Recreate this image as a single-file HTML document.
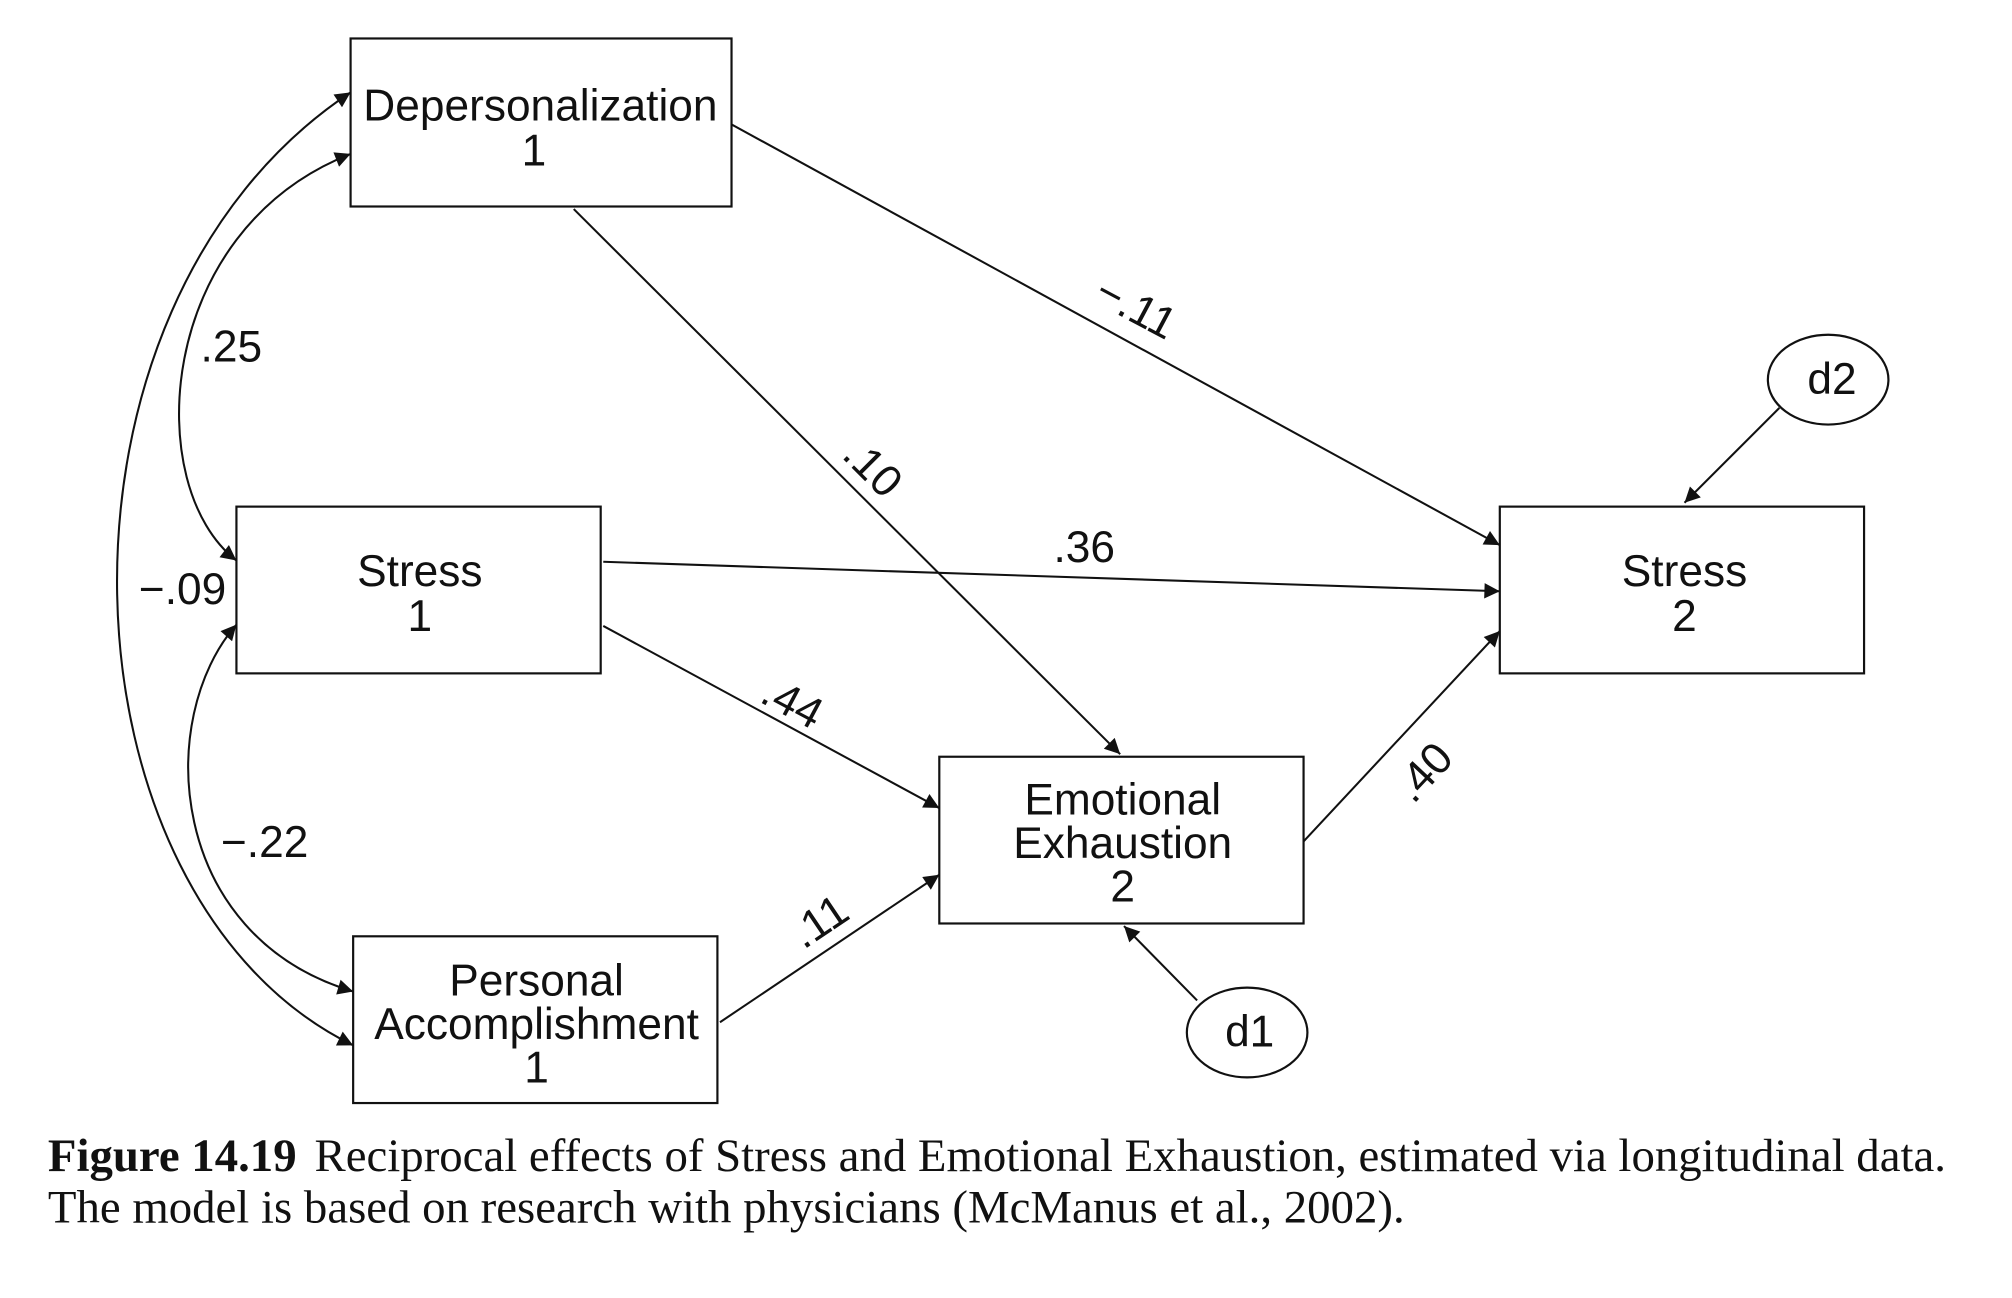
<!DOCTYPE html>
<html><head><meta charset="utf-8"><style>
html,body{margin:0;padding:0;background:#fff;}
svg{display:block;}
.s{font-family:"Liberation Sans",sans-serif;font-size:34.5px;fill:#111;}
.c{font-family:"Liberation Serif",serif;font-size:36.5px;fill:#111;}
</style></head><body>
<svg width="2012" height="1298" viewBox="0 0 1568 1012" xmlns="http://www.w3.org/2000/svg">
<defs><marker id="a" viewBox="0 0 10 10" refX="10" refY="5" markerWidth="15" markerHeight="12" markerUnits="userSpaceOnUse" orient="auto-start-reverse"><path d="M0,0 L10,5 L0,10 Z" fill="#111"/></marker></defs>
<g fill="none" stroke="#111" stroke-width="1.7">
<rect x="273" y="30" width="297" height="131"/>
<rect x="184" y="395" width="284" height="130"/>
<rect x="275" y="730" width="284" height="130"/>
<rect x="732" y="590" width="284" height="130"/>
<rect x="1169" y="395" width="284" height="130"/>
<ellipse cx="1425" cy="296" rx="47" ry="35"/>
<ellipse cx="972" cy="805" rx="47" ry="35"/>
<g stroke-width="1.6" marker-end="url(#a)">
<line x1="570" y1="97" x2="1169" y2="425"/>
<line x1="447" y1="163" x2="873" y2="588"/>
<line x1="470" y1="438" x2="1169" y2="461"/>
<line x1="470" y1="488" x2="732" y2="630"/>
<line x1="561" y1="797" x2="732" y2="682"/>
<line x1="1016" y1="656" x2="1169" y2="492"/>
<line x1="1387" y1="318" x2="1313" y2="392"/>
<line x1="933" y1="780" x2="876" y2="722"/>
<path marker-start="url(#a)" d="M273,72 C20,240 40,700 275,815"/>
<path marker-start="url(#a)" d="M273,120 C120,180 110,380 184,437"/>
<path marker-start="url(#a)" d="M184,487 C120,560 130,730 275,773"/>
</g></g>
<g class="s" text-anchor="middle">
<text x="421" y="94">Depersonalization</text><text x="416" y="129">1</text>
<text x="327" y="457">Stress</text><text x="327" y="492">1</text>
<text x="418" y="776">Personal</text><text x="418" y="810">Accomplishment</text><text x="418" y="844">1</text>
<text x="875" y="635">Emotional</text><text x="875" y="669">Exhaustion</text><text x="875" y="703">2</text>
<text x="1313" y="457">Stress</text><text x="1313" y="492">2</text>
<text x="1428" y="307">d2</text><text x="974" y="816">d1</text>
<text x="845" y="438">.36</text>
<text x="180" y="282">.25</text>
<text x="142" y="471">−.09</text>
<text x="206" y="668">−.22</text>
<text transform="translate(880,250) rotate(28)">−.11</text>
<text transform="translate(672,373) rotate(45)">.10</text>
<text transform="translate(612,558) rotate(28)">.44</text>
<text transform="translate(645,728) rotate(-34)">.11</text>
<text transform="translate(1118,610) rotate(-47)">.40</text>
</g>
<text class="c" x="37" y="913"><tspan font-weight="bold">Figure 14.19</tspan><tspan dx="14">Reciprocal effects of Stress and Emotional Exhaustion, estimated via longitudinal data.</tspan></text>
<text class="c" x="37" y="953">The model is based on research with physicians (McManus et al., 2002).</text>
</svg>
</body></html>
